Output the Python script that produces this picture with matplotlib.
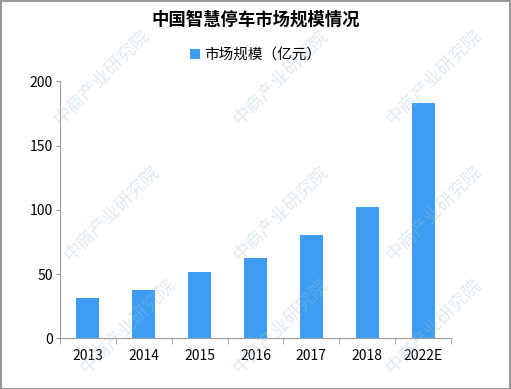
import numpy as np
from matplotlib import pyplot as plt

plt.rcParams['font.family'] = ['Noto Sans CJK SC', 'DejaVu Sans']

years = ['2013', '2014', '2015', '2016', '2017', '2018', '2022E']
market = [31.4, 37.6, 51.6, 62.5, 80.4, 102.2, 183.1]

fig = plt.figure(figsize=(5.11, 3.89), dpi=100)
ax = fig.add_axes([60 / 511, 1 - 338.3 / 389, 391 / 511, 257 / 389])

x = np.arange(len(years))
ax.bar(x, market, 0.41, color='#3d9df2', label='市场规模（亿元）', zorder=2)

ax.set_xlim(-0.5, len(years) - 0.5)
ax.set_ylim(0, 200)
ax.set_yticks([0, 50, 100, 150, 200])
ax.set_xticks(x)
ax.set_xticklabels(years)
ax.set_xticks(np.arange(len(years) + 1) - 0.5, minor=True)
ax.tick_params(axis='x', which='major', length=0, pad=8, labelsize=10)
ax.tick_params(axis='x', which='minor', length=4, color='#999999')
ax.tick_params(axis='y', length=3, color='#999999', labelsize=10, pad=2)
for s in ['top', 'right']:
    ax.spines[s].set_visible(False)
for s in ['left', 'bottom']:
    ax.spines[s].set_color('#a0a0a0')

fig.text(0.5, 1 - 20 / 389, '中国智慧停车市场规模情况', ha='center', va='center',
         fontsize=12.5, fontweight='bold')
fig.legend(loc='center', bbox_to_anchor=(0.5, 1 - 55 / 389), frameon=False,
           fontsize=10.5, handlelength=0.7, handleheight=0.7, handletextpad=0.3)

# watermark
for (wx, wy) in [(0.2, 0.8), (0.55, 0.8), (0.85, 0.8), (0.22, 0.45), (0.55, 0.45),
                 (0.85, 0.45), (0.25, 0.16), (0.55, 0.16), (0.85, 0.16)]:
    fig.text(wx, wy, '中商产业研究院', rotation=45, fontsize=13, color='#9cc3de',
             alpha=0.35, ha='center', va='center', zorder=0)

fig.patches.append(plt.Rectangle((0.001, 0.001), 0.997, 0.997, transform=fig.transFigure,
                                 fill=False, edgecolor='#999999', linewidth=1.5))

fig.savefig('out.png', dpi=100)
